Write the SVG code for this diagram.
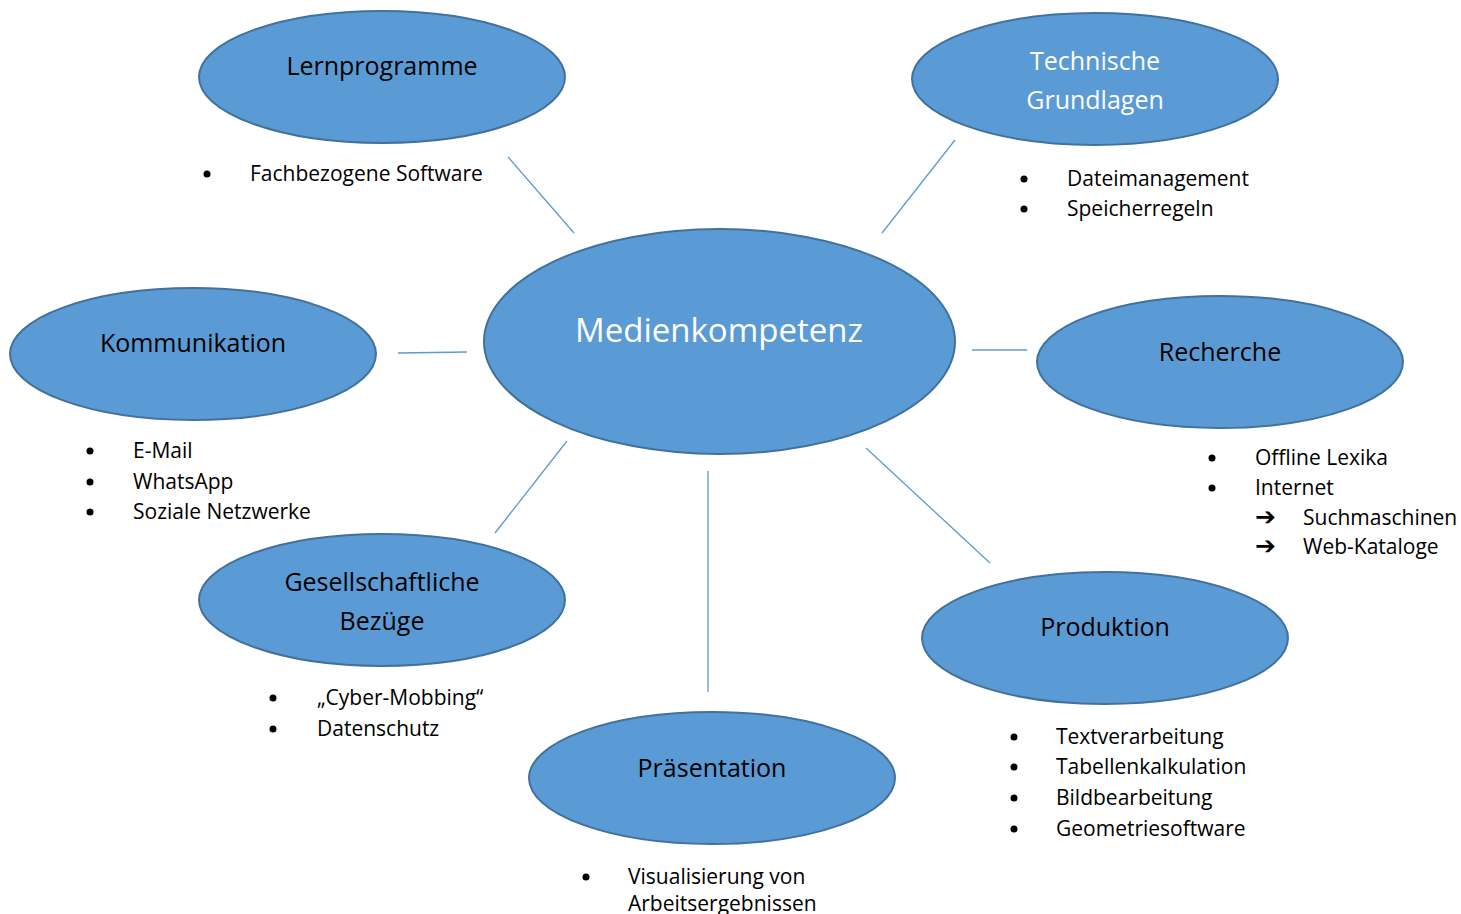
<svg xmlns="http://www.w3.org/2000/svg" width="1461" height="914" viewBox="0 0 1461 914">
<style>
.node{fill:#5B9BD5;stroke:#41719C;stroke-width:2}
.lbl{font-family:"Open Sans","Liberation Sans",sans-serif;font-size:25px;fill:#000;text-anchor:middle}
.wlbl{fill:#fff}
.item{font-family:"Open Sans","Liberation Sans",sans-serif;font-size:21px;fill:#000}
.arr{font-family:"DejaVu Sans",sans-serif;font-size:25px;fill:#000;font-weight:bold}
.conn line{stroke:#5B9BD5;stroke-width:1.3}
.bul{fill:#000}
</style>
<rect width="1461" height="914" fill="#fff"/>
<g class="conn" id="connectors">
<line x1="508" y1="157" x2="574" y2="233"/>
<line x1="955" y1="140" x2="882" y2="233"/>
<line x1="398" y1="353" x2="467" y2="352"/>
<line x1="972" y1="350" x2="1027" y2="350"/>
<line x1="567" y1="441" x2="495" y2="533"/>
<line x1="708" y1="471" x2="708" y2="692"/>
<line x1="866" y1="448" x2="990" y2="563"/>
</g>
<g id="medienkompetenz">
<ellipse class="node" cx="719.5" cy="341.5" rx="235.5" ry="112.5"/>
<text class="lbl wlbl" x="719" y="342" style="font-size:33px">Medienkompetenz</text>
</g>
<g id="lernprogramme">
<ellipse class="node" cx="382" cy="77" rx="183" ry="66"/>
<text class="lbl" x="382" y="75">Lernprogramme</text>
<circle class="bul" cx="207" cy="174" r="3.5"/>
<text class="item" x="250" y="181">Fachbezogene Software</text>
</g>
<g id="technische">
<ellipse class="node" cx="1095" cy="79" rx="183" ry="66"/>
<text class="lbl wlbl" x="1095" y="70">Technische</text>
<text class="lbl wlbl" x="1095" y="109">Grundlagen</text>
<circle class="bul" cx="1024" cy="179" r="3.5"/>
<text class="item" x="1067" y="186">Dateimanagement</text>
<circle class="bul" cx="1024" cy="209" r="3.5"/>
<text class="item" x="1067" y="216">Speicherregeln</text>
</g>
<g id="kommunikation">
<ellipse class="node" cx="193" cy="354" rx="183" ry="66"/>
<text class="lbl" x="193" y="352">Kommunikation</text>
<circle class="bul" cx="90" cy="451" r="3.5"/>
<text class="item" x="133" y="458">E-Mail</text>
<circle class="bul" cx="90" cy="482" r="3.5"/>
<text class="item" x="133" y="489">WhatsApp</text>
<circle class="bul" cx="90" cy="512" r="3.5"/>
<text class="item" x="133" y="519">Soziale Netzwerke</text>
</g>
<g id="recherche">
<ellipse class="node" cx="1220" cy="362" rx="183" ry="66"/>
<text class="lbl" x="1220" y="361">Recherche</text>
<circle class="bul" cx="1212" cy="458" r="3.5"/>
<text class="item" x="1255" y="465">Offline Lexika</text>
<circle class="bul" cx="1212" cy="488" r="3.5"/>
<text class="item" x="1255" y="495">Internet</text>
<text class="arr" x="1255" y="525">➔</text>
<text class="item" x="1303" y="525">Suchmaschinen</text>
<text class="arr" x="1255" y="554">➔</text>
<text class="item" x="1303" y="554">Web-Kataloge</text>
</g>
<g id="gesellschaftliche">
<ellipse class="node" cx="382" cy="600" rx="183" ry="66"/>
<text class="lbl" x="382" y="591">Gesellschaftliche</text>
<text class="lbl" x="382" y="630">Bezüge</text>
<circle class="bul" cx="273" cy="698" r="3.5"/>
<text class="item" x="317" y="705">„Cyber-Mobbing“</text>
<circle class="bul" cx="273" cy="729" r="3.5"/>
<text class="item" x="317" y="736">Datenschutz</text>
</g>
<g id="produktion">
<ellipse class="node" cx="1105" cy="638" rx="183" ry="66"/>
<text class="lbl" x="1105" y="636">Produktion</text>
<circle class="bul" cx="1014" cy="737" r="3.5"/>
<text class="item" x="1056" y="744">Textverarbeitung</text>
<circle class="bul" cx="1014" cy="767" r="3.5"/>
<text class="item" x="1056" y="774">Tabellenkalkulation</text>
<circle class="bul" cx="1014" cy="798" r="3.5"/>
<text class="item" x="1056" y="805">Bildbearbeitung</text>
<circle class="bul" cx="1014" cy="829" r="3.5"/>
<text class="item" x="1056" y="836">Geometriesoftware</text>
</g>
<g id="praesentation">
<ellipse class="node" cx="712" cy="778" rx="183" ry="66"/>
<text class="lbl" x="712" y="777">Präsentation</text>
<circle class="bul" cx="586" cy="877" r="3.5"/>
<text class="item" x="628" y="884">Visualisierung von</text>
<text class="item" x="628" y="911">Arbeitsergebnissen</text>
</g>
</svg>
